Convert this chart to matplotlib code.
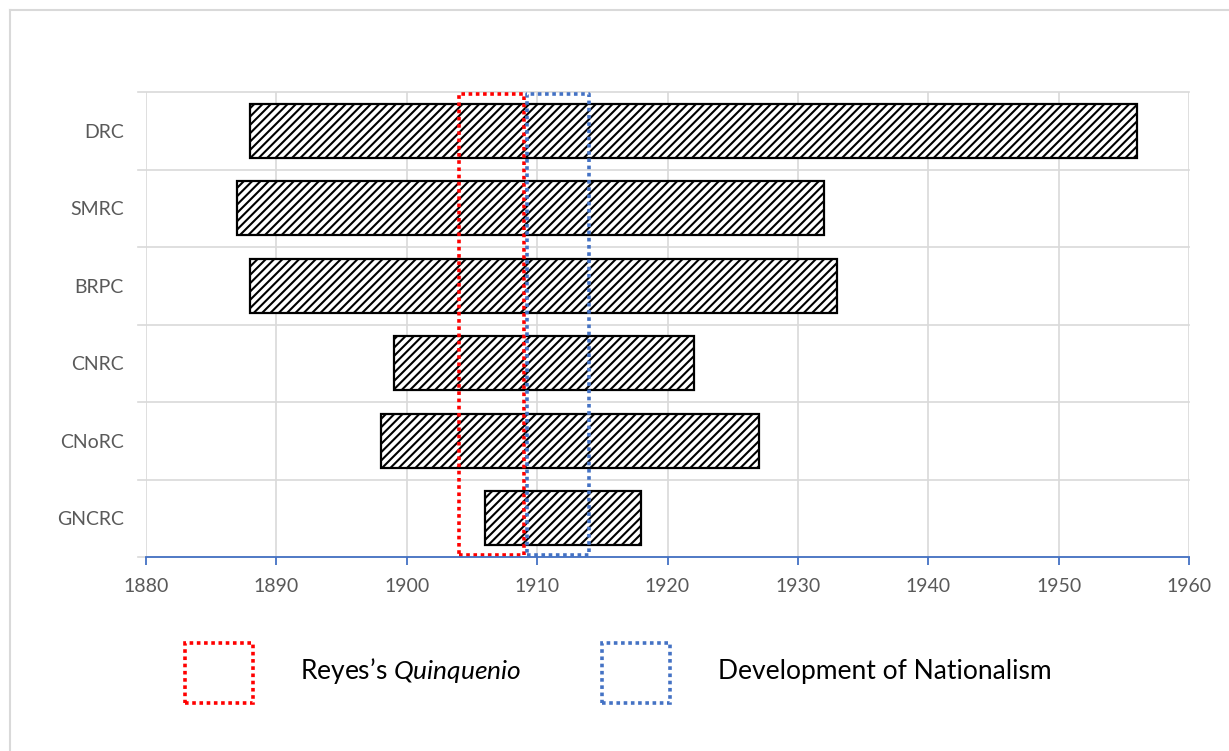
import matplotlib
matplotlib.use("Agg")
import matplotlib.pyplot as plt
from matplotlib.patches import Rectangle
from matplotlib.lines import Line2D

plt.rcParams['font.family'] = ['Lato', 'DejaVu Sans']
plt.rcParams['hatch.linewidth'] = 1.5
plt.rcParams['mathtext.fontset'] = 'custom'
plt.rcParams['mathtext.it'] = 'Lato:italic'

# data: start / end years, listed bottom to top
names = ['GNCRC', 'CNoRC', 'CNRC', 'BRPC', 'SMRC', 'DRC']
starts = [1906, 1898, 1899, 1888, 1887, 1888]
ends = [1918, 1927, 1922, 1933, 1932, 1956]

# highlighted periods
periods = ["Reyes\u2019s $\\it{Quinquenio}$", 'Development of Nationalism']
period_start = [1904, 1909.2]
period_end = [1909, 1914]
period_colors = ['#FF0000', '#4472C4']

xticks = [1880, 1890, 1900, 1910, 1920, 1930, 1940, 1950, 1960]

fig = plt.figure(figsize=(12.29, 7.51), dpi=100)
ax = fig.add_axes([146/1229, 1 - 557/751, 1043/1229, 465/751])

widths = [e - s for s, e in zip(starts, ends)]
ax.barh(range(len(names)), widths, left=starts, height=0.7,
        color='white', edgecolor='black', hatch='////', linewidth=1.6, zorder=3)

ax.set_xlim(1880, 1960)
ax.set_ylim(-0.5, len(names) - 0.5)
ax.set_xticks(xticks)
ax.set_yticks(range(len(names)))
ax.set_yticklabels(names)

# grid
for x in xticks:
    ax.axvline(x, color='#D9D9D9', lw=1.2, zorder=0)
for i in range(len(names) + 1):
    ax.plot([-0.008, 1], [i - 0.5, i - 0.5], transform=ax.get_yaxis_transform(),
            color='#D9D9D9', lw=1.2, zorder=0, clip_on=False)

for side in ['top', 'right', 'left']:
    ax.spines[side].set_visible(False)
ax.spines['bottom'].set_color('#4472C4')
ax.spines['bottom'].set_linewidth(1.3)
ax.spines['bottom'].set_zorder(5)
ax.tick_params(axis='x', colors='#4472C4', length=6, width=1.3, labelcolor='#595959',
               labelsize=14, pad=9)
ax.tick_params(axis='y', length=0, labelcolor='#595959', labelsize=14, pad=16)

# period rectangles
for s, e, c in zip(period_start, period_end, period_colors):
    ax.plot([s, e, e, s, s], [-0.48, -0.48, 5.48, 5.48, -0.48], color=c, lw=2.6,
            linestyle=(0, (1, 1)), zorder=4, clip_on=False)

# legend
leg_box_x = [185, 602]
leg_text_x = [300, 718]
for bx, tx, lab, c in zip(leg_box_x, leg_text_x, periods, period_colors):
    fig.patches.append(Rectangle((bx/1229, 1 - 703/751), 68/1229, 60/751,
                                 transform=fig.transFigure, fill=False, edgecolor=c,
                                 lw=2.6, linestyle=(0, (1, 1))))
    fig.text(tx/1229, 1 - 671/751, lab, fontsize=19, color='black', va='center', ha='left')

# chart border
fig.add_artist(Line2D([10/1229, 10/1229], [0, 1 - 10/751], color='#D9D9D9', lw=1.5,
                      transform=fig.transFigure))
fig.add_artist(Line2D([10/1229, 1], [1 - 10/751, 1 - 10/751], color='#D9D9D9', lw=1.5,
                      transform=fig.transFigure))

fig.savefig('out.png', dpi=100)
